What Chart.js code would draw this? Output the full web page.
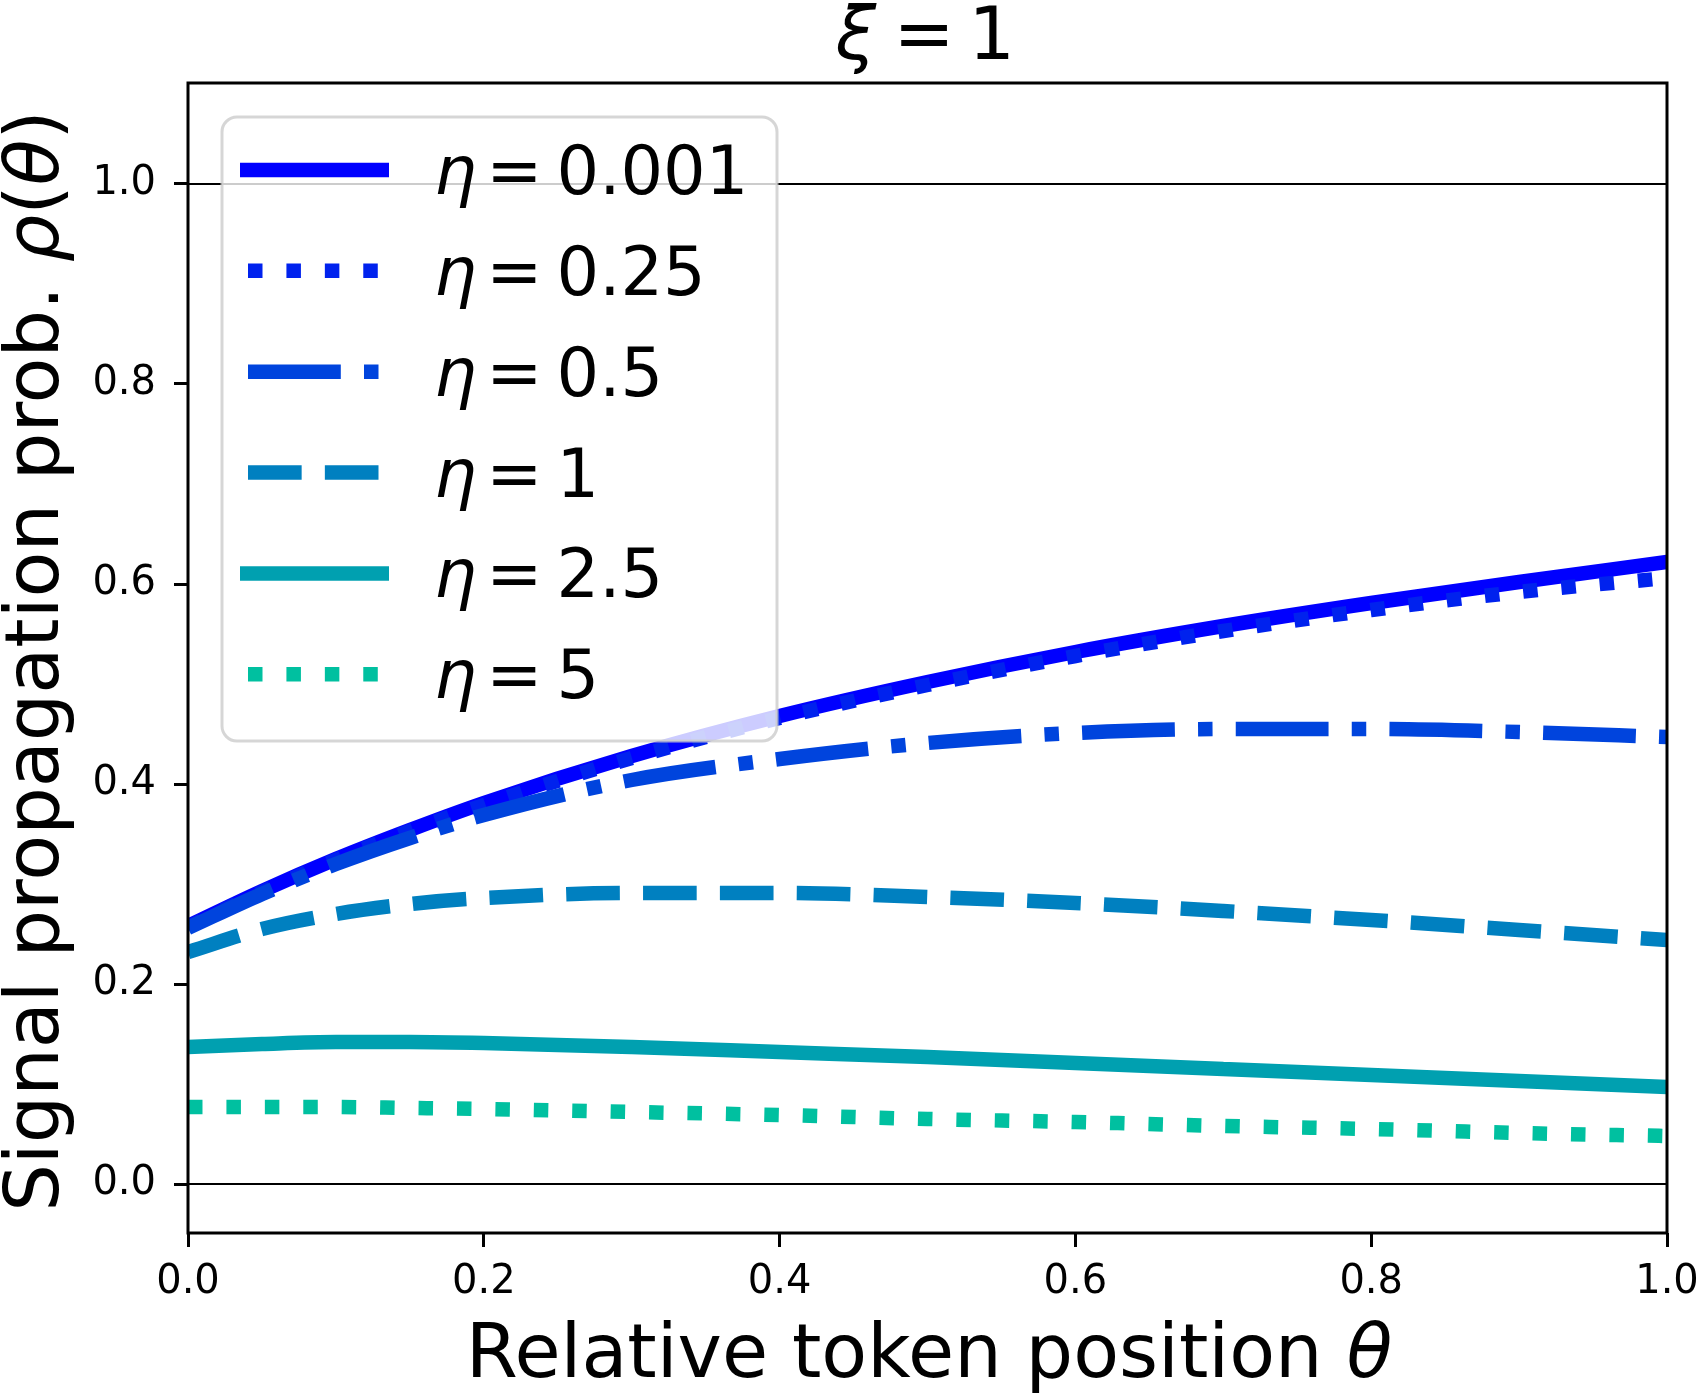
<!DOCTYPE html>
<html>
<head>
<meta charset="utf-8">
<script src="https://cdn.jsdelivr.net/npm/chart.js@4.4.1/dist/chart.umd.min.js"></script>
<style>
html, body { margin: 0; padding: 0; background: #fff; }
canvas { display: block; }
</style>
</head>
<body>
<canvas id="grafico" width="1700" height="1394"></canvas>
<script>
// posições relativas do token (eixo x)
const theta = [0, 0.05, 0.1, 0.15, 0.2, 0.3, 0.4, 0.5, 0.6, 0.7, 0.8, 0.9, 1.0];

// probabilidade de propagação do sinal, uma lista por valor de eta
const eta0001 = [0.258, 0.293, 0.325, 0.354, 0.381, 0.428, 0.468, 0.502, 0.532, 0.558, 0.581, 0.602, 0.622];
const eta025  = [0.257, 0.292, 0.324, 0.353, 0.379, 0.426, 0.466, 0.499, 0.528, 0.553, 0.574, 0.592, 0.606];
const eta05   = [0.256, 0.290, 0.320, 0.346, 0.369, 0.404, 0.425, 0.441, 0.451, 0.455, 0.455, 0.452, 0.447];
const eta1    = [0.232, 0.255, 0.270, 0.280, 0.286, 0.291, 0.291, 0.287, 0.281, 0.273, 0.264, 0.254, 0.244];
const eta25   = [0.137, 0.140, 0.142, 0.142, 0.141, 0.137, 0.132, 0.127, 0.121, 0.115, 0.109, 0.103, 0.097];
const eta5    = [0.077, 0.077, 0.077, 0.076, 0.075, 0.072, 0.069, 0.065, 0.062, 0.058, 0.055, 0.051, 0.048];

const etaLabels = ['0.001', '0.25', '0.5', '1', '2.5', '5'];
const series = [eta0001, eta025, eta05, eta1, eta25, eta5];

const xTicks = [0, 0.2, 0.4, 0.6, 0.8, 1.0];
const yTicks = [0, 0.2, 0.4, 0.6, 0.8, 1.0];
const hLines = [0, 1];

const FONTE = '"DejaVu Sans"';
const lw = 14.5;
const cores = ['#0000ff', '#0022ee', '#0044dd', '#0080c0', '#00a0b0', '#00c0a0'];
const tracos = [
    [],
    [lw, 1.65 * lw],
    [6.4 * lw, 1.6 * lw, lw, 1.6 * lw],
    [3.7 * lw, 1.6 * lw],
    [],
    [lw, 1.65 * lw]
];

function fonte(tam, it) {
    return (it ? 'italic ' : '') + tam + 'px ' + FONTE;
}

// texto centrado em cx, partes em itálico quando it = true
function textoMisto(ctx, partes, tam, cx, baseY) {
    let total = 0;
    partes.forEach(p => {
        ctx.font = fonte(tam, p.it);
        p.w = ctx.measureText(p.t).width;
        total += p.w;
    });
    let x = cx - total / 2;
    ctx.textAlign = 'left';
    ctx.textBaseline = 'alphabetic';
    ctx.fillStyle = '#000';
    partes.forEach(p => {
        ctx.font = fonte(tam, p.it);
        ctx.fillText(p.t, x, baseY);
        x += p.w;
    });
}

// desenha "símbolo = valor" com a tinta de cada pedaço começando em posições dadas
function equacao(ctx, simbolo, valor, tam, xs, baseY) {
    ctx.textAlign = 'left';
    ctx.textBaseline = 'alphabetic';
    ctx.fillStyle = '#000';
    const pedacos = [[simbolo, true], ['=', false], [valor, false]];
    pedacos.forEach(([t, it], k) => {
        ctx.font = fonte(tam, it);
        const ref = k === 2 ? '0' : t;
        const esq = ctx.measureText(ref).actualBoundingBoxLeft;
        ctx.fillText(t, xs[k] + esq, baseY);
    });
}

const molduras = {
    id: 'molduras',
    beforeDatasetsDraw(chart) {
        const { ctx, chartArea: a, scales } = chart;
        ctx.save();
        ctx.strokeStyle = '#000';
        ctx.lineWidth = 2;
        hLines.forEach(v => {
            const y = scales.y.getPixelForValue(v);
            ctx.beginPath();
            ctx.moveTo(a.left, y);
            ctx.lineTo(a.right, y);
            ctx.stroke();
        });
        ctx.restore();
    },
    afterDatasetsDraw(chart) {
        const { ctx, chartArea: a } = chart;
        ctx.save();
        ctx.strokeStyle = '#000';
        ctx.lineWidth = 3;
        ctx.strokeRect(a.left, a.top, a.right - a.left, a.bottom - a.top);
        ctx.restore();
    }
};

const textos = {
    id: 'textos',
    afterDraw(chart) {
        const { ctx, chartArea: a } = chart;
        const cx = (a.left + a.right) / 2;
        const cy = (a.top + a.bottom) / 2;
        ctx.save();

        // título
        equacao(ctx, 'ξ', '1', 73, [cx - 93, cx - 27, cx + 45], 59);

        // rótulo do eixo x
        textoMisto(ctx, [{ t: 'Relative token position ' }, { t: 'θ', it: true }], 75, cx + 1.5, 1377);

        // rótulo do eixo y
        ctx.save();
        ctx.translate(58, cy + 3);
        ctx.rotate(-Math.PI / 2);
        textoMisto(ctx, [
            { t: 'Signal propagation prob. ' },
            { t: 'ρ', it: true },
            { t: '(' },
            { t: 'θ', it: true },
            { t: ')' }
        ], 75, 0, 0);
        ctx.restore();

        // legenda
        const lx = a.left + 34, ly = a.top + 34, lwid = 555, lh = 624;
        ctx.beginPath();
        ctx.roundRect(lx, ly, lwid, lh, 15);
        ctx.fillStyle = 'rgba(255,255,255,0.8)';
        ctx.fill();
        ctx.strokeStyle = 'rgba(204,204,204,0.8)';
        ctx.lineWidth = 3;
        ctx.stroke();

        chart.data.datasets.forEach((ds, i) => {
            const ry = ly + 53 + i * 100.85;
            const temTraco = ds.borderDash.length > 0;
            const x0 = lx + 18 + (temTraco ? 8 : 0);
            const x1 = lx + 167 - (temTraco ? 10 : 0);
            ctx.save();
            ctx.strokeStyle = ds.borderColor;
            ctx.lineWidth = ds.borderWidth;
            ctx.lineCap = 'butt';
            ctx.setLineDash(ds.borderDash);
            ctx.beginPath();
            ctx.moveTo(x0, ry);
            ctx.lineTo(x1, ry);
            ctx.stroke();
            ctx.restore();

            equacao(ctx, 'η', etaLabels[i], 67, [lx + 215, lx + 271.3, lx + 338.5], ry + 24);
        });

        ctx.restore();
    }
};

Chart.defaults.font.family = FONTE;
Chart.defaults.color = '#000';

new Chart(document.getElementById('grafico'), {
    type: 'line',
    data: {
        datasets: series.map((vals, i) => ({
            label: 'η = ' + etaLabels[i],
            data: theta.map((t, k) => ({ x: t, y: vals[k] })),
            borderColor: cores[i],
            borderWidth: lw,
            borderDash: tracos[i],
            borderCapStyle: 'butt',
            pointRadius: 0,
            cubicInterpolationMode: 'monotone',
            fill: false,
            clip: 0,
            order: series.length - i
        }))
    },
    options: {
        responsive: false,
        animation: false,
        devicePixelRatio: 1,
        layout: { padding: { top: 83, right: 33, left: 0, bottom: 0 } },
        plugins: {
            legend: { display: false },
            title: { display: false },
            tooltip: { enabled: false }
        },
        scales: {
            x: {
                type: 'linear',
                min: 0,
                max: 1,
                afterBuildTicks: s => { s.ticks = xTicks.map(v => ({ value: v })); },
                afterFit: s => { s.height = 161; s.paddingLeft = 0; s.paddingRight = 0; },
                border: { display: false },
                grid: { display: true, drawOnChartArea: false, drawTicks: true, tickLength: 14, tickWidth: 3, tickColor: '#000' },
                ticks: {
                    font: { size: 40 },
                    color: '#000',
                    padding: 12,
                    maxRotation: 0,
                    autoSkip: false,
                    callback: v => v.toFixed(1)
                }
            },
            y: {
                type: 'linear',
                min: -0.049,
                max: 1.101,
                afterBuildTicks: s => { s.ticks = yTicks.map(v => ({ value: v })); },
                afterFit: s => { s.width = 188; s.paddingTop = 0; s.paddingBottom = 0; },
                border: { display: false },
                grid: { display: true, drawOnChartArea: false, drawTicks: true, tickLength: 14, tickWidth: 3, tickColor: '#000' },
                ticks: {
                    font: { size: 40 },
                    color: '#000',
                    padding: 18,
                    autoSkip: false,
                    callback: v => v.toFixed(1)
                }
            }
        }
    },
    plugins: [molduras, textos]
});
</script>
</body>
</html>
